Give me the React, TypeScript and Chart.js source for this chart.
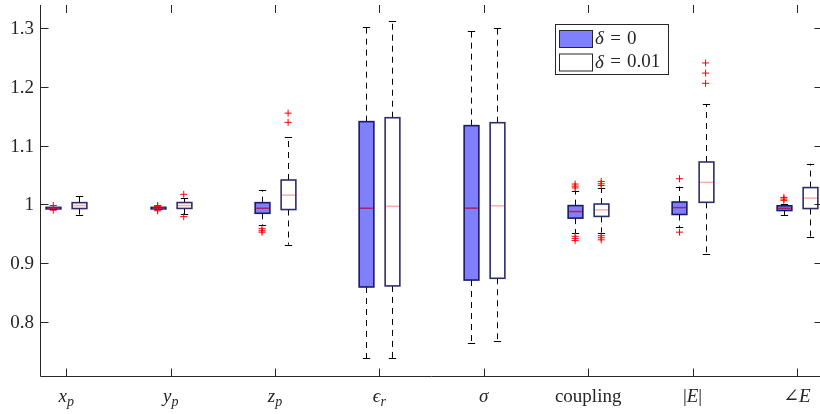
import React, { useEffect, useRef } from 'react';
import { Chart, registerables } from 'chart.js';
Chart.register(...registerables);

// ---- data ----
const categories = ['x_p', 'y_p', 'z_p', 'eps_r', 'sigma', 'coupling', '|E|', 'angE'];
const seriesLabels = ['δ = 0', 'δ = 0.01'];
const yTicks = [0.8, 0.9, 1.0, 1.1, 1.2, 1.3];
const yTickLabels = ['0.8', '0.9', '1', '1.1', '1.2', '1.3'];

// delta = 0
const lo0 = [0.9915, 0.9915, 0.9643, 0.738, 0.764, 0.951, 0.9615, 0.9816];
const q1_0 = [0.9922, 0.9922, 0.9847, 0.8592, 0.871, 0.9765, 0.9827, 0.9894];
const med0 = [0.9935, 0.9935, 0.9933, 0.9933, 0.9935, 0.9877, 0.9944, 0.9933];
const q3_0 = [0.9948, 0.9948, 1.0028, 1.1408, 1.134, 0.9978, 1.0039, 0.9975];
const hi0 = [0.9958, 0.9958, 1.0246, 1.3025, 1.295, 1.0235, 1.0302, 1.0005];
const out0 = [
  [0.998, 0.99],
  [0.998, 0.9965, 0.9905, 0.989],
  [0.9585, 0.955, 0.9525],
  [],
  [],
  [1.0345, 1.031, 1.028, 0.9455, 0.942, 0.9385],
  [1.0436, 0.9526],
  [1.0118, 1.009, 1.0068],
];

// delta = 0.01
const lo1 = [0.9816, 0.983, 0.9313, 0.7385, 0.768, 0.9519, 0.9157, 0.9435];
const q1_1 = [0.9928, 0.993, 0.9911, 0.861, 0.874, 0.9794, 1.0034, 0.9928];
const med1 = [0.9978, 0.998, 1.0156, 0.9966, 0.9975, 0.9905, 1.0374, 1.0106];
const q3_1 = [1.0028, 1.003, 1.0414, 1.1475, 1.139, 1.0005, 1.0721, 1.0285];
const hi1 = [1.0139, 1.01, 1.114, 1.312, 1.2995, 1.027, 1.171, 1.0692];
const out1 = [
  [],
  [1.017, 0.979],
  [1.1553, 1.1396],
  [],
  [],
  [1.039, 1.035, 1.032, 0.9465, 0.943, 0.9395],
  [1.2408, 1.2235, 1.2061],
  [],
];

const OFF = 0.125;
const BOXW = 0.141;
const CAPW = 0.07;

const AXIS = '#262626';
const SERIF = '"Liberation Serif", "DejaVu Serif", serif';

type Seg = { t: string; i?: boolean; sub?: boolean };
const labelSegs: Seg[][] = [
  [{ t: 'x', i: true }, { t: 'p', i: true, sub: true }],
  [{ t: 'y', i: true }, { t: 'p', i: true, sub: true }],
  [{ t: 'z', i: true }, { t: 'p', i: true, sub: true }],
  [{ t: 'ϵ', i: true }, { t: 'r', i: true, sub: true }],
  [{ t: 'σ', i: true }],
  [{ t: 'coupling' }],
  [{ t: '|' }, { t: 'E', i: true }, { t: '|' }],
  [{ t: '∠' }, { t: 'E', i: true }],
];

export default function App() {
  const ref = useRef<HTMLCanvasElement>(null);
  useEffect(() => {
    const canvas = ref.current!;
    const toPts = (outs: number[][], off: number) =>
      outs.flatMap((arr, i) => arr.map((v) => ({ x: i + 1 + off, y: v })));

    const groups = [
      { off: -OFF, lo: lo0, q1: q1_0, med: med0, q3: q3_0, hi: hi0, fill: '#8080ff', edge: '#1a1a66', medC: '#a3226c' },
      { off: OFF, lo: lo1, q1: q1_1, med: med1, q3: q3_1, hi: hi1, fill: '#ffffff', edge: '#2e2e6a', medC: '#ffaaaa' },
    ];

    const boxPlugin = {
      id: 'boxes',
      beforeDatasetsDraw(chart: any) {
        const ctx = chart.ctx as CanvasRenderingContext2D;
        const xs = chart.scales.x;
        const ys = chart.scales.y;
        const unit = xs.getPixelForValue(1) - xs.getPixelForValue(0);
        ctx.save();
        groups.forEach((g) => {
          categories.forEach((_, i) => {
            const cx = Math.round(xs.getPixelForValue(i + 1 + g.off)) + 0.5;
            const hw = (BOXW * unit) / 2;
            const cw = (CAPW * unit) / 2;
            const yLo = ys.getPixelForValue(g.lo[i]);
            const yQ1 = ys.getPixelForValue(g.q1[i]);
            const yMed = ys.getPixelForValue(g.med[i]);
            const yQ3 = ys.getPixelForValue(g.q3[i]);
            const yHi = ys.getPixelForValue(g.hi[i]);
            // whiskers
            ctx.strokeStyle = '#000';
            ctx.lineWidth = 1;
            ctx.setLineDash([6, 5]);
            ctx.beginPath();
            ctx.moveTo(cx, yQ3);
            ctx.lineTo(cx, yHi);
            ctx.moveTo(cx, yQ1);
            ctx.lineTo(cx, yLo);
            ctx.stroke();
            ctx.setLineDash([]);
            ctx.beginPath();
            ctx.moveTo(cx - cw, Math.round(yHi) + 0.5);
            ctx.lineTo(cx + cw, Math.round(yHi) + 0.5);
            ctx.moveTo(cx - cw, Math.round(yLo) + 0.5);
            ctx.lineTo(cx + cw, Math.round(yLo) + 0.5);
            ctx.stroke();
            // box
            ctx.fillStyle = g.fill;
            ctx.fillRect(cx - hw, yQ3, 2 * hw, yQ1 - yQ3);
            ctx.strokeStyle = g.edge;
            ctx.lineWidth = 1.6;
            ctx.strokeRect(cx - hw, yQ3, 2 * hw, yQ1 - yQ3);
            // median
            ctx.strokeStyle = g.medC;
            ctx.lineWidth = 1.5;
            ctx.beginPath();
            ctx.moveTo(cx - hw + 1, yMed);
            ctx.lineTo(cx + hw - 1, yMed);
            ctx.stroke();
          });
        });
        ctx.restore();
      },
      afterDraw(chart: any) {
        const ctx = chart.ctx as CanvasRenderingContext2D;
        const xs = chart.scales.x;
        const ys = chart.scales.y;
        const a = chart.chartArea;
        ctx.save();
        ctx.strokeStyle = AXIS;
        ctx.lineWidth = 1;
        const L = Math.round(a.left) + 0.5;
        const R = Math.round(a.right) - 0.5;
        const B = Math.round(a.bottom) + 0.5;
        const T = Math.round(a.top);
        ctx.beginPath();
        ctx.moveTo(L, T);
        ctx.lineTo(L, B);
        ctx.lineTo(R, B);
        ctx.lineTo(R, T);
        ctx.stroke();
        const TL = 8;
        // y ticks
        ctx.beginPath();
        yTicks.forEach((v) => {
          const y = Math.round(ys.getPixelForValue(v)) + 0.5;
          ctx.moveTo(L, y);
          ctx.lineTo(L + TL, y);
          ctx.moveTo(R, y);
          ctx.lineTo(R - TL, y);
        });
        // x ticks
        categories.forEach((_, i) => {
          const x = Math.round(xs.getPixelForValue(i + 1)) + 0.5;
          ctx.moveTo(x, B);
          ctx.lineTo(x, B - TL);
          ctx.moveTo(x, T);
          ctx.lineTo(x, T + TL);
        });
        ctx.stroke();
        // y labels
        ctx.fillStyle = AXIS;
        ctx.font = `19px ${SERIF}`;
        ctx.textAlign = 'right';
        ctx.textBaseline = 'middle';
        yTicks.forEach((v, k) => {
          ctx.fillText(yTickLabels[k], a.left - 6, ys.getPixelForValue(v) + 1);
        });
        // x labels
        ctx.textAlign = 'left';
        ctx.textBaseline = 'alphabetic';
        const base = 402;
        labelSegs.forEach((segs, i) => {
          const fontFor = (s: Seg) => `${s.i ? 'italic ' : ''}${s.sub ? 14 : 19}px ${SERIF}`;
          let w = 0;
          segs.forEach((s) => {
            ctx.font = fontFor(s);
            w += ctx.measureText(s.t).width;
          });
          let x = xs.getPixelForValue(i + 1) - w / 2;
          segs.forEach((s) => {
            ctx.font = fontFor(s);
            ctx.fillText(s.t, x, base + (s.sub ? 4 : 0));
            x += ctx.measureText(s.t).width;
          });
        });
        // legend
        ctx.lineWidth = 1;
        ctx.strokeStyle = AXIS;
        ctx.fillStyle = '#fff';
        ctx.fillRect(555.5, 24.5, 113, 50);
        ctx.strokeRect(555.5, 24.5, 113, 50);
        const rows = [
          { y: 30, fill: groups[0].fill, label: '0' },
          { y: 53.5, fill: groups[1].fill, label: '0.01' },
        ];
        rows.forEach((r, k) => {
          ctx.fillStyle = r.fill;
          ctx.fillRect(559.5, r.y + 0.5, 33, 17);
          ctx.strokeStyle = '#262626';
          ctx.lineWidth = 1;
          ctx.strokeRect(559.5, r.y + 0.5, 33, 17);
          ctx.fillStyle = AXIS;
          ctx.textBaseline = 'middle';
          ctx.textAlign = 'left';
          ctx.font = `italic 19px ${SERIF}`;
          ctx.fillText('δ', 595, r.y + 9);
          ctx.font = `19px ${SERIF}`;
          ctx.textAlign = 'center';
          ctx.fillText('=', 615.5, r.y + 9);
          ctx.textAlign = 'left';
          ctx.fillText(r.label, 627, r.y + 9);
          void seriesLabels[k];
        });
        ctx.restore();
      },
    };

    const chart = new Chart(canvas, {
      type: 'scatter',
      data: {
        datasets: [
          {
            label: seriesLabels[0],
            data: toPts(out0, -OFF),
            pointStyle: 'cross',
            pointRadius: 3.5,
            borderColor: '#ff0000',
            backgroundColor: '#ff0000',
            borderWidth: 1,
          },
          {
            label: seriesLabels[1],
            data: toPts(out1, OFF),
            pointStyle: 'cross',
            pointRadius: 3.5,
            borderColor: '#ff0000',
            backgroundColor: '#ff0000',
            borderWidth: 1,
          },
        ],
      },
      options: {
        animation: false,
        responsive: false,
        devicePixelRatio: 1,
        events: [],
        layout: { padding: { left: 40, right: 7, top: 0, bottom: 38 } },
        plugins: { legend: { display: false }, tooltip: { enabled: false } },
        scales: {
          x: { type: 'linear', min: 0.748, max: 8.25, display: false },
          y: { type: 'linear', min: 0.70756, max: 1.3395, display: false },
        },
      },
      plugins: [boxPlugin],
    } as any);
    return () => chart.destroy();
  }, []);
  return (
    <div style={{ position: 'fixed', left: 0, top: 0, width: 830, height: 414, background: '#fff' }}>
      <canvas ref={ref} width={830} height={414} style={{ display: 'block' }} />
    </div>
  );
}
